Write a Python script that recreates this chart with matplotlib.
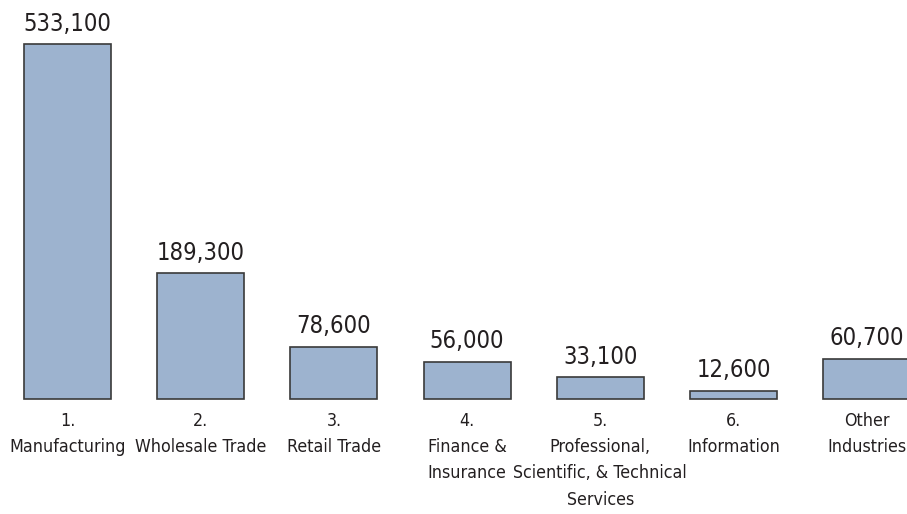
import matplotlib.pyplot as plt
import numpy as np

plt.rcParams['font.family'] = ['DejaVu Sans']
plt.rcParams['font.stretch'] = 'condensed'

categories = ["1.\nManufacturing", "2.\nWholesale Trade", "3.\nRetail Trade",
              "4.\nFinance &\nInsurance",
              "5.\nProfessional,\nScientific, & Technical\nServices",
              "6.\nInformation", "Other\nIndustries"]
jobs = [533100, 189300, 78600, 56000, 33100, 12600, 60700]

BAR_COLOR = "#9db3cf"
EDGE_COLOR = "#3a3a3a"
TEXT_COLOR = "#231f20"

fig = plt.figure(figsize=(9.07, 5.14), dpi=100)
# axes placed so bars line up with the reference image
ax = fig.add_axes([0, 1 - 399 / 514, 1, 355 / 514])

x = np.arange(len(jobs))
bars = ax.bar(x, jobs, width=0.653, color=BAR_COLOR, edgecolor=EDGE_COLOR,
              linewidth=1.2, clip_on=False)
ax.bar_label(bars, labels=[f"{v:,}" for v in jobs], padding=6, fontsize=17,
             color=TEXT_COLOR)

ax.set_xlim(-67.5 / 133.2, (907 - 67.5) / 133.2)
ax.set_ylim(0, max(jobs))
ax.set_xticks(x)
ax.set_xticklabels(categories, fontsize=12.8, color=TEXT_COLOR, linespacing=1.6)
ax.tick_params(axis="x", length=0, pad=9)
ax.set_yticks([])
for s in ax.spines.values():
    s.set_visible(False)

fig.savefig("out.png", dpi=100)
